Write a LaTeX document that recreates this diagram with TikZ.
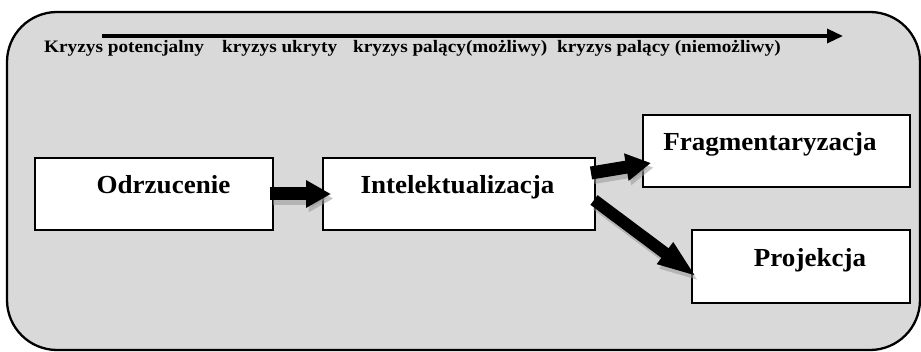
\documentclass[tikz,border=0pt]{standalone}
\usepackage{fontspec}
\setmainfont{Liberation Serif}
\newfontfamily\tlfont[FakeStretch=1.1]{Liberation Serif}
\newfontfamily\boxfont[FakeStretch=1.04]{Liberation Serif}
\usetikzlibrary{arrows.meta}
\definecolor{bggray}{RGB}{217,217,217}
\definecolor{shadowgray}{RGB}{150,150,150}
\tikzset{
  stagebox/.style={draw=black, line width=2pt, fill=white, rectangle,
    minimum height=72pt, text height=12pt, text depth=12pt, inner sep=0pt,
    font=\boxfont\bfseries\fontsize{26}{30}\selectfont},
  tltext/.style={anchor=base west, inner sep=0pt, font=\tlfont\bfseries\fontsize{17.5}{20}\selectfont},
  blockarrow/.style={line width=13pt, -{Triangle[length=25pt,width=26pt]}, black},
  longarrow/.style={line width=12pt, -{Triangle[length=40pt,width=24pt]}, black},
  arrowshadow/.style={shadowgray, opacity=0.55, transform canvas={shift={(2.5pt,-4.5pt)}}},
}
\begin{document}
\begin{tikzpicture}[x=1pt,y=-1pt]
\useasboundingbox (0,0) rectangle (921,352);
% outer panel
\draw[line width=2.3pt, fill=bggray, rounded corners=50pt] (7,12) rectangle (920,350);
% timeline
\coordinate (tlstart) at (102,36);
\coordinate (tlend) at (843,36);
\draw[line width=3.3pt, -{Triangle[length=16pt,width=14pt]}] (tlstart) -- (tlend);
\node[tltext] (t1) at (44,53) {Kryzys potencjalny};
\node[tltext] (t2) at (222,53) {kryzys ukryty};
\node[tltext] (t3) at (353,53) {kryzys palący(możliwy)};
\node[tltext] (t4) at (557,53) {kryzys palący (niemożliwy)};
% boxes
\node[stagebox, minimum width=238pt] (odr) at (154,194) {\hspace*{19pt}Odrzucenie};
\node[stagebox, minimum width=272pt] (int) at (459,194) {Intelektualizacja\hspace*{3pt}};
\node[stagebox, minimum width=267pt] (frag) at (776.5,151) {Fragmentaryzacja\hspace*{13pt}};
\node[stagebox, minimum width=218pt, minimum height=73pt] (proj) at (801,266.5) {\hspace*{18pt}Projekcja};
% arrow shadows
\draw[blockarrow, arrowshadow] ([xshift=-4pt]odr.east) -- ([xshift=9pt]int.west);
\draw[blockarrow, arrowshadow] ([xshift=-5pt,yshift=21pt]int.east) -- ([xshift=9pt,yshift=-12pt]frag.west);
\draw[longarrow, arrowshadow] ([xshift=-2pt,yshift=-6pt]int.east) -- ([xshift=6pt,yshift=-10.5pt]proj.west);
% arrows
\draw[blockarrow] ([xshift=-4pt]odr.east) -- ([xshift=9pt]int.west);
\draw[blockarrow] ([xshift=-5pt,yshift=21pt]int.east) -- ([xshift=9pt,yshift=-12pt]frag.west);
\draw[longarrow] ([xshift=-2pt,yshift=-6pt]int.east) -- ([xshift=6pt,yshift=-10.5pt]proj.west);
\end{tikzpicture}
\end{document}
